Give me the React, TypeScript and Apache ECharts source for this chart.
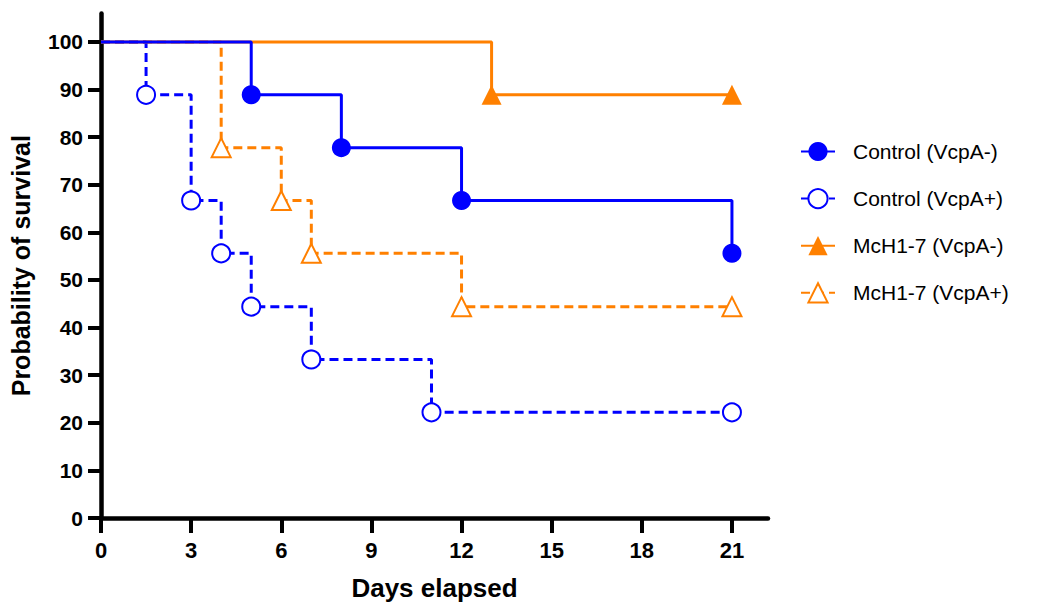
import React, { useEffect, useRef } from "react";
import * as echarts from "echarts";

// Kaplan–Meier survival curves (percent surviving vs. days)
const controlMinusDays = [0, 5, 8, 12, 21];
const controlMinusSurv = [100, 88.9, 77.8, 66.7, 55.6];

const controlPlusDays = [0, 1.5, 3, 4, 5, 7, 11, 21];
const controlPlusSurv = [100, 88.9, 66.7, 55.6, 44.4, 33.3, 22.2, 22.2];

const mchMinusDays = [0, 13, 21];
const mchMinusSurv = [100, 88.9, 88.9];

const mchPlusDays = [0, 4, 6, 7, 12, 21];
const mchPlusSurv = [100, 77.8, 66.7, 55.6, 44.4, 44.4];

const xTicks = [0, 3, 6, 9, 12, 15, 18, 21];
const yTicks = [0, 10, 20, 30, 40, 50, 60, 70, 80, 90, 100];

const BLUE = "#0000ff";
const ORANGE = "#ff8000";
const FONT = "Arial, 'Liberation Sans', sans-serif";

// The starting point of each curve carries no marker
const toPoints = (days: number[], surv: number[]) =>
  days.map((d, i) =>
    i === 0 ? { value: [d, surv[i]], symbol: "none" } : { value: [d, surv[i]] }
  );

export default function App() {
  const ref = useRef<HTMLDivElement>(null);

  useEffect(() => {
    if (!ref.current) return;
    const chart = echarts.init(ref.current, null, { renderer: "svg" });

    const bold = { color: "#000", fontWeight: "bold" as const, fontFamily: FONT };

    chart.setOption({
      animation: false,
      backgroundColor: "#fff",
      grid: {
        left: 101,
        right: 272,
        top: 13.4,
        bottom: 84,
        outerBoundsMode: "none",
      },
      legend: {
        orient: "vertical",
        left: 795,
        top: 136,
        itemWidth: 34,
        itemHeight: 24,
        itemGap: 26,
        textStyle: {
          color: "#000",
          fontFamily: FONT,
          fontSize: 21,
          padding: [0, 0, 0, 13],
        },
        data: [
          "Control (VcpA-)",
          "Control (VcpA+)",
          "McH1-7 (VcpA-)",
          "McH1-7 (VcpA+)",
        ],
      },
      xAxis: {
        type: "value",
        min: 0,
        max: 22.2,
        name: "Days elapsed",
        nameLocation: "middle",
        nameGap: 57,
        nameTextStyle: { ...bold, fontSize: 26 },
        splitLine: { show: false },
        axisLine: { show: true, lineStyle: { color: "#000", width: 4.5 } },
        axisTick: {
          show: true,
          length: 15,
          customValues: xTicks,
          lineStyle: { color: "#000", width: 4 },
        },
        axisLabel: {
          ...bold,
          customValues: xTicks,
          fontSize: 22,
          margin: 21,
        },
      },
      yAxis: {
        type: "value",
        min: 0,
        max: 106,
        name: "Probability of survival",
        nameLocation: "middle",
        nameGap: 68,
        nameTextStyle: { ...bold, fontSize: 25 },
        splitLine: { show: false },
        axisLine: { show: true, lineStyle: { color: "#000", width: 4.5 } },
        axisTick: {
          show: true,
          length: 13,
          customValues: yTicks,
          lineStyle: { color: "#000", width: 4 },
        },
        axisLabel: {
          ...bold,
          customValues: yTicks,
          fontSize: 21,
          margin: 18,
        },
      },
      series: [
        {
          name: "Control (VcpA-)",
          type: "line",
          step: "end",
          z: 5,
          symbol: "circle",
          symbolSize: 19,
          color: BLUE,
          lineStyle: { color: BLUE, width: 3 },
          itemStyle: { color: BLUE },
          data: toPoints(controlMinusDays, controlMinusSurv),
        },
        {
          name: "Control (VcpA+)",
          type: "line",
          step: "end",
          z: 3,
          symbol: "emptyCircle",
          symbolSize: 18,
          color: BLUE,
          lineStyle: { color: BLUE, width: 3, type: [9, 5] },
          itemStyle: { color: BLUE, borderWidth: 2.5 },
          data: toPoints(controlPlusDays, controlPlusSurv),
        },
        {
          name: "McH1-7 (VcpA-)",
          type: "line",
          step: "end",
          z: 4,
          symbol: "triangle",
          symbolSize: 20,
          color: ORANGE,
          lineStyle: { color: ORANGE, width: 3 },
          itemStyle: { color: ORANGE },
          data: toPoints(mchMinusDays, mchMinusSurv),
        },
        {
          name: "McH1-7 (VcpA+)",
          type: "line",
          step: "end",
          z: 2,
          symbol: "emptyTriangle",
          symbolSize: 19,
          color: ORANGE,
          lineStyle: { color: ORANGE, width: 3, type: [9, 5] },
          itemStyle: { color: ORANGE, borderWidth: 2.5 },
          data: toPoints(mchPlusDays, mchPlusSurv),
        },
      ],
    });

    return () => chart.dispose();
  }, []);

  return (
    <div
      ref={ref}
      style={{ position: "absolute", left: 0, top: 0, width: 1040, height: 602 }}
    />
  );
}
